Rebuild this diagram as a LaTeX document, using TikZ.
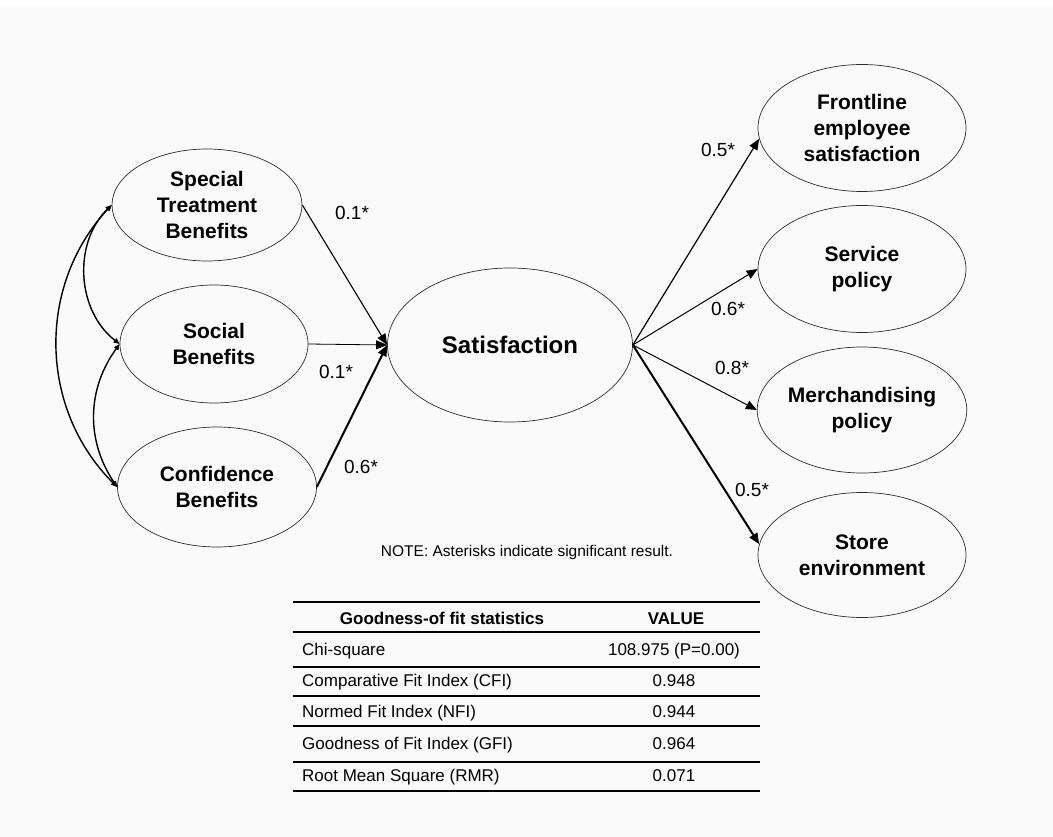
\documentclass[tikz,border=0pt]{standalone}
\usepackage{fontspec}
\setmainfont{Liberation Sans}
\usetikzlibrary{shapes.geometric,arrows.meta}
\definecolor{bg}{RGB}{250,250,250}
\definecolor{edgec}{RGB}{45,45,45}
\begin{document}
\begin{tikzpicture}[x=1pt,y=-1pt,
  lat/.style={draw=edgec, ellipse, line width=0.7pt, inner sep=0pt, align=center,
    font=\bfseries\fontsize{21}{26}\selectfont},
  pathedge/.style={draw=black, -{Triangle[length=11pt,width=9pt]}},
  cov/.style={draw=black, line width=1.4pt,
    {Triangle[length=6pt,width=5pt]}-{Triangle[length=6pt,width=5pt]}},
  lbl/.style={font=\fontsize{19}{22}\selectfont},
  cellL/.style={font=\fontsize{17}{20}\selectfont, anchor=west, inner sep=0pt, text height=12pt, text depth=4pt},
  cellR/.style={font=\fontsize{17}{20}\selectfont, inner sep=0pt, text height=12pt, text depth=4pt},
  trule/.style={line width=1.4pt}]
\fill[white] (0,0) rectangle (1053,837);
\fill[bg] (0,7) rectangle (1053,837);
\useasboundingbox (0,0) rectangle (1053,837);

% latent variables
\node[lat, minimum width=190pt, minimum height=112pt] (sp) at (207,205) {Special\\Treatment\\Benefits};
\node[lat, minimum width=188pt, minimum height=118pt] (so) at (214,344) {Social\\Benefits};
\node[lat, minimum width=199pt, minimum height=120pt] (co) at (217,487) {Confidence\\Benefits};
\node[lat, minimum width=245pt, minimum height=154pt, font=\bfseries\fontsize{24}{28}\selectfont] (sat) at (510,345) {Satisfaction};
\node[lat, minimum width=208pt, minimum height=127pt] (fr) at (862,128) {Frontline\\employee\\satisfaction};
\node[lat, minimum width=208pt, minimum height=127pt] (se) at (862,269) {Service\\policy};
\node[lat, minimum width=208pt, minimum height=126pt] (me) at (862,410) {Merchandising\\policy};
\node[lat, minimum width=208pt, minimum height=125pt] (st) at (862,555) {Store\\environment};

% paths into satisfaction
\draw[pathedge, line width=1.1pt] (sp.east) -- (sat.west);
\draw[pathedge, line width=0.8pt] (so.east) -- (sat.west);
\draw[pathedge, line width=2pt] (co.east) -- (sat.west);

% paths out of satisfaction
\draw[pathedge, line width=1.2pt] (sat.east) -- (fr.186);
\draw[pathedge, line width=1pt] (sat.east) -- (se.west);
\draw[pathedge, line width=1pt] (sat.east) -- (me.west);
\draw[pathedge, line width=2pt] (sat.east) -- (st.174);

% covariances
\draw[cov] (sp.west) to[bend right=49] (so.west);
\draw[cov] (so.west) to[bend right=35] (co.west);
\draw[cov] (sp.west) to[bend right=44] (co.west);

% coefficient labels
\node[lbl] (l1) at (352,213) {0.1*};
\node[lbl] (l2) at (336,372) {0.1*};
\node[lbl] (l3) at (361,467) {0.6*};
\node[lbl] (r1) at (718,150) {0.5*};
\node[lbl] (r2) at (728,309) {0.6*};
\node[lbl] (r3) at (732,368) {0.8*};
\node[lbl] (r4) at (752,490) {0.5*};

% note
\node[font=\fontsize{15.5}{18}\selectfont] (note) at (527,552) {NOTE: Asterisks indicate significant result.};

% table
\draw[trule] (293,602) -- (760,602);
\draw[trule] (293,632) -- (760,632);
\draw[trule] (293,667) -- (760,667);
\draw[trule] (293,696) -- (760,696);
\draw[trule] (293,726) -- (760,726);
\draw[trule] (293,762) -- (760,762);
\draw[trule] (293,791) -- (760,791);

\node[cellR, font=\bfseries\fontsize{17}{20}\selectfont] (h1) at (442,620) {Goodness-of fit statistics};
\node[cellR, font=\bfseries\fontsize{17}{20}\selectfont] (h2) at (676,620) {VALUE};

\node[cellL] (a1) at (302,651) {Chi-square};
\node[cellR] (b1) at (674,651) {108.975 (P=0.00)};
\node[cellL] (a2) at (302,682) {Comparative Fit Index (CFI)};
\node[cellR] (b2) at (674,682) {0.948};
\node[cellL] (a3) at (302,713) {Normed Fit Index (NFI)};
\node[cellR] (b3) at (674,713) {0.944};
\node[cellL] (a4) at (302,745) {Goodness of Fit Index (GFI)};
\node[cellR] (b4) at (674,745) {0.964};
\node[cellL] (a5) at (302,777) {Root Mean Square (RMR)};
\node[cellR] (b5) at (674,777) {0.071};
\end{tikzpicture}
\end{document}
